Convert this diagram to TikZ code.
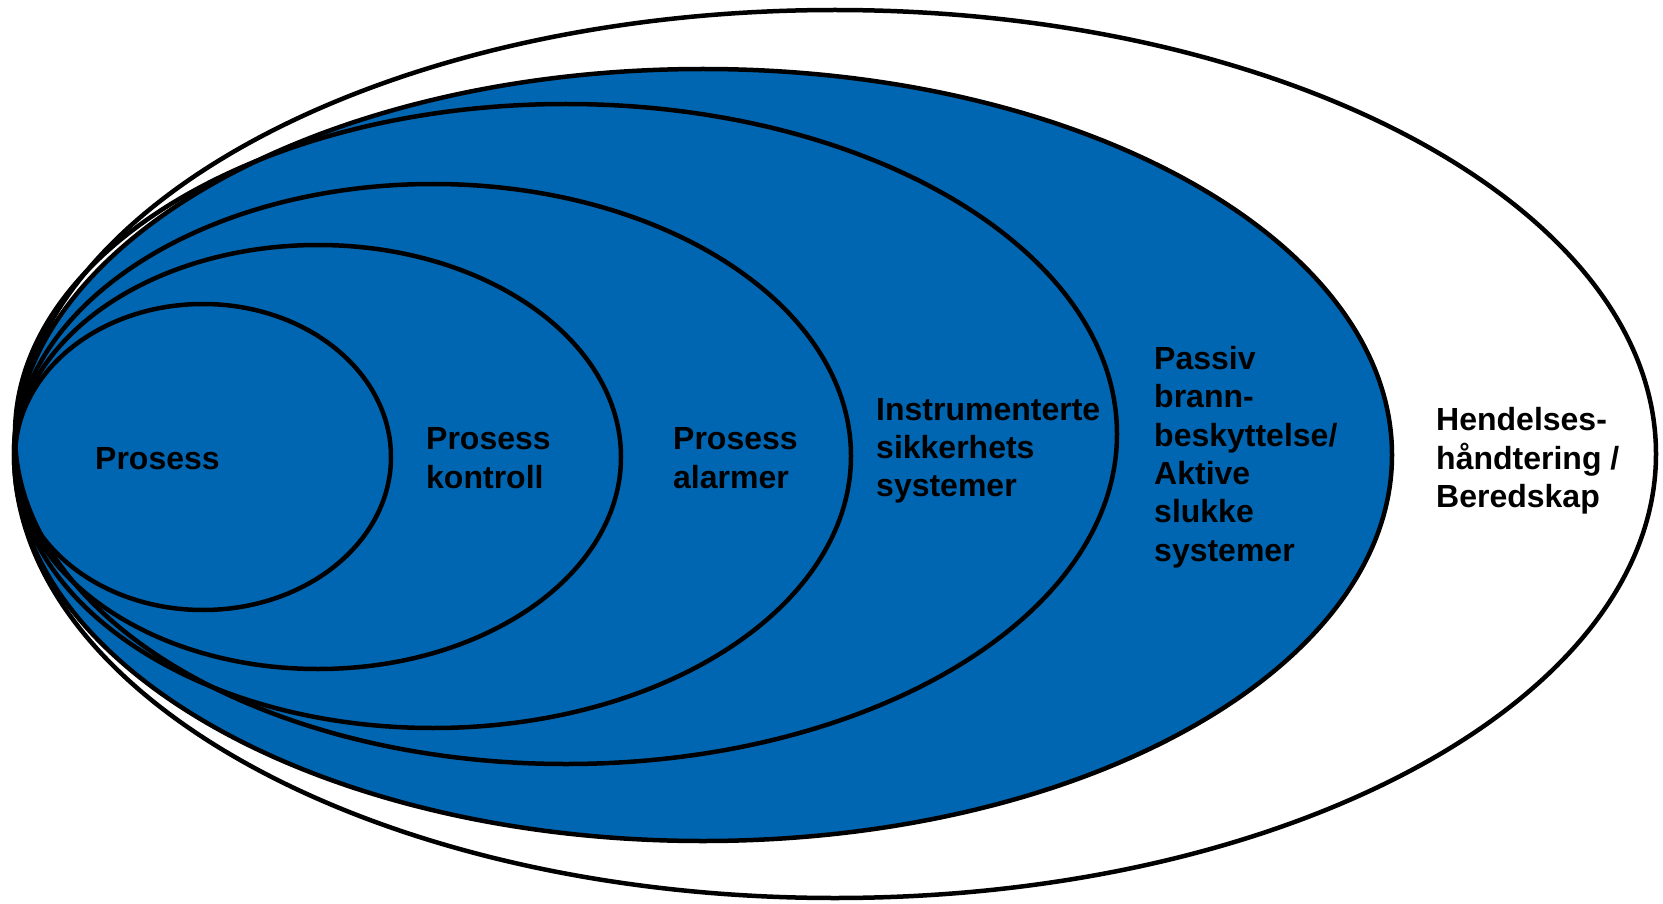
\documentclass[tikz,border=0pt]{standalone}
\usepackage{fontspec}
\setmainfont{Liberation Sans}
\definecolor{layerblue}{HTML}{0066B1}
\begin{document}
\begin{tikzpicture}[x=1pt,y=-1pt,
  ring/.style={draw=black,line width=4.5pt},
  lbl/.style={anchor=west,inner sep=0pt,align=left,font=\fontsize{32}{38.3}\selectfont\bfseries}]
\useasboundingbox (0,0) rectangle (1663,904);
% outer white ellipse
\draw[ring,fill=white] (835,454) ellipse [x radius=821pt, y radius=444pt];
% blue layers
\draw[ring,fill=layerblue] (703,455) ellipse [x radius=689pt, y radius=386pt];
\draw[ring] (566,434) ellipse [x radius=551pt, y radius=330pt];
\draw[ring] (433,456) ellipse [x radius=418pt, y radius=272pt];
\draw[ring] (318,457) ellipse [x radius=303pt, y radius=212pt];
\draw[ring] (203,457) ellipse [x radius=188pt, y radius=153pt];
% labels
\node[lbl] (p1) at (95,459) {Prosess};
\node[lbl] (p2) at (426,458) {Prosess\\kontroll};
\node[lbl] (p3) at (673,458) {Prosess\\alarmer};
\node[lbl] (p4) at (876,451) {Instrumenterte\\sikkerhets\\systemer};
\node[lbl] (p5) at (1154,457) {Passiv\\brann-\\beskyttelse/\\Aktive\\slukke\\systemer};
\node[lbl] (p6) at (1436,461) {Hendelses-\\håndtering /\\Beredskap};
\end{tikzpicture}
\end{document}
